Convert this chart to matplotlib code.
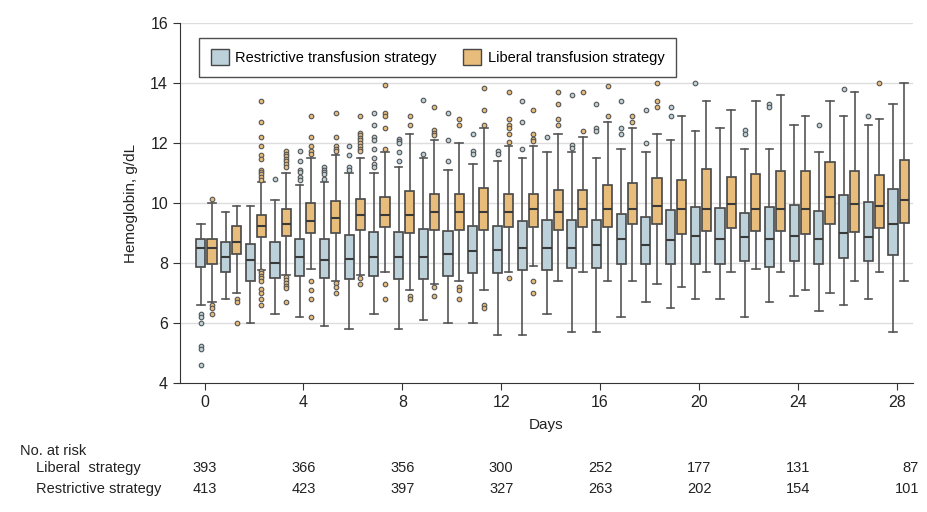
import matplotlib
matplotlib.use("Agg")
import matplotlib.pyplot as plt
from matplotlib.patches import Patch
from matplotlib.transforms import blended_transform_factory

plt.rcParams["font.family"] = ["Liberation Sans", "DejaVu Sans"]

days = list(range(29))

# restrictive strategy: whisker low, Q1, median, Q3, whisker high, outliers
res_lo = [6.61, 6.81, 6.00, 6.31, 6.21, 5.91, 5.81, 6.30, 5.81, 6.11,
          6.00, 6.00, 5.60, 5.60, 6.30, 5.70, 5.70, 6.20, 6.71, 6.51,
          6.81, 6.81, 6.20, 6.71, 6.91, 6.41, 6.61, 6.81, 5.70]
res_q1 = [7.88, 7.69, 7.40, 7.50, 7.57, 7.50, 7.48, 7.58, 7.47, 7.47,
          7.57, 7.68, 7.68, 7.77, 7.77, 7.85, 7.82, 7.96, 7.97, 7.97,
          7.96, 7.96, 8.07, 7.86, 8.06, 7.97, 8.16, 8.06, 8.26]
res_med = [8.51, 8.20, 8.10, 8.00, 8.20, 8.10, 8.15, 8.20, 8.20, 8.20,
           8.31, 8.40, 8.45, 8.50, 8.50, 8.50, 8.61, 8.80, 8.61, 8.76,
           8.91, 8.80, 8.86, 8.80, 8.91, 8.80, 9.01, 8.86, 9.31]
res_q3 = [8.80, 8.71, 8.62, 8.71, 8.81, 8.81, 8.92, 9.02, 9.02, 9.12,
          9.08, 9.23, 9.25, 9.41, 9.43, 9.45, 9.42, 9.63, 9.53, 9.75,
          9.86, 9.84, 9.65, 9.85, 9.94, 9.73, 10.27, 10.04, 10.45]
res_hi = [9.30, 9.71, 9.91, 10.11, 10.59, 10.70, 11.00, 11.00, 11.20, 11.51,
          11.10, 11.30, 11.40, 11.50, 11.71, 11.71, 11.50, 11.80, 11.70, 12.10,
          12.40, 12.50, 11.80, 11.80, 12.61, 11.70, 12.90, 12.61, 13.30]
res_out = [[6.3, 6.2, 6.0, 5.25, 5.14, 4.62], [], [], [10.81],
           [11.72, 11.40, 11.11, 11.04, 10.87, 10.76],
           [11.20, 11.11, 11.04, 10.96, 10.81],
           [11.9, 11.6, 11.2, 11.11],
           [13.0, 12.61, 12.2, 12.09, 11.80, 11.50, 11.31, 11.20],
           [12.14, 12.06, 11.98, 11.71, 11.40],
           [13.42, 11.62], [13.0, 12.10, 11.41], [12.31, 11.73, 11.64],
           [11.73, 11.64], [13.40, 12.71, 11.80], [12.20],
           [13.60, 11.92, 11.84], [13.30, 12.51, 12.40], [13.40, 12.51, 12.31],
           [13.10, 12.01], [13.20, 12.90], [14.0], [], [12.42, 12.31],
           [13.30, 13.20], [], [12.61], [13.79], [12.90], []]

# liberal strategy
lib_lo = [6.70, 7.01, 7.77, 7.61, 7.81, 7.41, 7.61, 7.71, 7.11, 7.30,
          7.41, 7.11, 7.71, 7.90, 7.41, 7.71, 7.41, 7.41, 7.31, 7.21,
          7.71, 7.71, 7.81, 7.71, 7.11, 7.01, 7.41, 7.71, 7.41]
lib_q1 = [7.96, 8.29, 8.86, 8.90, 9.00, 9.00, 9.10, 9.20, 8.99, 9.10,
          9.10, 9.11, 9.20, 9.20, 9.09, 9.19, 9.19, 9.29, 9.29, 8.98,
          9.06, 9.18, 9.07, 9.07, 8.97, 9.29, 9.05, 9.18, 9.35]
lib_med = [8.51, 8.70, 9.22, 9.31, 9.41, 9.51, 9.61, 9.61, 9.61, 9.71,
           9.71, 9.71, 9.71, 9.81, 9.71, 9.81, 9.81, 9.81, 9.91, 9.81,
           9.81, 9.95, 9.81, 9.81, 9.81, 10.21, 9.95, 9.91, 10.10]
lib_q3 = [8.80, 9.22, 9.60, 9.81, 10.00, 10.08, 10.12, 10.21, 10.39, 10.31,
          10.31, 10.50, 10.31, 10.31, 10.42, 10.42, 10.61, 10.66, 10.83, 10.75,
          11.13, 10.86, 10.95, 11.05, 11.05, 11.35, 11.05, 10.94, 11.44]
lib_hi = [10.00, 9.91, 10.70, 11.00, 11.50, 11.60, 11.50, 11.70, 12.31, 12.10,
          12.01, 12.51, 11.90, 11.90, 12.31, 12.20, 12.71, 12.51, 12.31, 12.89,
          13.40, 13.10, 13.40, 13.60, 12.90, 13.40, 13.70, 12.79, 14.00]
lib_out = [[10.12, 6.60, 6.50, 6.30], [6.81, 6.70, 6.0],
           [13.40, 12.69, 12.20, 11.90, 11.59, 11.48, 11.11, 11.04, 10.96, 10.87,
            10.78, 7.74, 7.66, 7.57, 7.50, 7.39, 7.13, 7.02, 6.81, 6.61],
           [11.72, 11.64, 11.56, 11.48, 11.40, 11.31, 11.20,
            7.55, 7.44, 7.35, 7.24, 7.16, 6.71],
           [12.90, 12.20, 11.90, 11.72, 11.64, 7.42, 7.11, 6.81, 6.21],
           [13.0, 12.20, 11.9, 11.81, 11.73, 7.33, 7.22, 7.02],
           [12.90, 12.33, 12.25, 12.16, 12.09, 12.0, 11.90, 11.81, 11.72, 7.52, 7.31],
           [13.91, 13.0, 12.90, 12.51, 11.80, 7.31, 6.81],
           [12.90, 12.61, 6.92, 6.81],
           [13.21, 12.42, 12.34, 12.27, 7.21, 6.91],
           [12.81, 12.61, 7.21, 7.11, 6.81],
           [13.81, 13.10, 12.61, 6.61, 6.50],
           [13.70, 12.81, 12.61, 12.51, 12.31, 12.03, 7.51],
           [13.10, 12.31, 12.14, 12.06, 7.41, 7.01],
           [13.70, 13.30, 12.81, 12.61], [13.70, 12.40], [13.90, 12.90],
           [12.90, 12.71], [14.0, 13.40, 13.20], [], [], [], [], [], [], [], [],
           [14.0], []]

risk_days = [0, 4, 8, 12, 16, 20, 24, 28]
risk_liberal = [393, 366, 356, 300, 252, 177, 131, 87]
risk_restrictive = [413, 423, 397, 327, 263, 202, 154, 101]

blue = "#bcd1da"
orange = "#e8bd7b"
edge = "#474747"


def make_stats(lo, q1, med, q3, hi, out):
    return [dict(whislo=a, q1=b, med=c, q3=d, whishi=e, fliers=f)
            for a, b, c, d, e, f in zip(lo, q1, med, q3, hi, out)]


fig = plt.figure(figsize=(9.27, 5.12), dpi=100, facecolor="white")
ax = fig.add_axes([0.194, 0.2514, 0.791, 0.7043])

for ytick in [6, 8, 10, 12, 14, 16]:
    ax.axhline(ytick, color="#dddddd", linewidth=1, zorder=0)

groups = [(make_stats(res_lo, res_q1, res_med, res_q3, res_hi, res_out), -0.15, blue),
          (make_stats(lib_lo, lib_q1, lib_med, lib_q3, lib_hi, lib_out), 0.30, orange)]
for stats, shift, color in groups:
    ax.bxp(stats, positions=[d + shift for d in days], widths=0.37,
           capwidths=0.3, patch_artist=True, manage_ticks=False,
           boxprops=dict(facecolor=color, edgecolor=edge, linewidth=1.2),
           medianprops=dict(color="#3a3a3a", linewidth=1.5),
           whiskerprops=dict(color="#555555", linewidth=1.2),
           capprops=dict(color="#555555", linewidth=1.2),
           flierprops=dict(marker="o", markersize=3.3, markerfacecolor=color,
                           markeredgecolor="#555555", markeredgewidth=0.8),
           zorder=2)

ax.set_xlim(-1.0, 28.66)
ax.set_ylim(4, 16)
ax.set_xticks(risk_days)
ax.set_yticks(range(4, 17, 2))
ax.tick_params(labelsize=11.5, length=5, color="#333333", labelcolor="#222222")
ax.spines["top"].set_visible(False)
ax.spines["right"].set_visible(False)
ax.spines["left"].set_color("#333333")
ax.spines["bottom"].set_color("#333333")
ax.set_xlabel("Days", fontsize=11, color="#222222", labelpad=6)
ax.set_ylabel("Hemoglobin, g/dL", fontsize=11, color="#222222", labelpad=9)

handles = [Patch(facecolor=blue, edgecolor=edge, label="Restrictive transfusion strategy"),
           Patch(facecolor=orange, edgecolor=edge, label="Liberal transfusion strategy")]
leg = ax.legend(handles=handles, loc="upper left", bbox_to_anchor=(0.026, 0.958),
                borderaxespad=0, ncol=2, fontsize=10.5, fancybox=False,
                handlelength=1.25, handleheight=1.25, handletextpad=0.45,
                columnspacing=1.8, borderpad=0.8)
leg.get_frame().set_edgecolor("#222222")
leg.get_frame().set_linewidth(1.0)

tr = blended_transform_factory(ax.transData, fig.transFigure)
fig.text(0.0216, 0.119, "No. at risk", fontsize=10.5, color="#222222", va="center")
fig.text(0.039, 0.086, "Liberal  strategy", fontsize=10.5, color="#222222", va="center")
fig.text(0.039, 0.045, "Restrictive strategy", fontsize=10.5, color="#222222", va="center")
for d, nl, nr in zip(risk_days, risk_liberal, risk_restrictive):
    ha = "right" if d == 28 else "center"
    x = 28.9 if d == 28 else d
    ax.text(x, 0.086, str(nl), transform=tr, fontsize=10.5, ha=ha, va="center", color="#222222")
    ax.text(x, 0.045, str(nr), transform=tr, fontsize=10.5, ha=ha, va="center", color="#222222")

fig.savefig("out.png", dpi=100, facecolor="white")
